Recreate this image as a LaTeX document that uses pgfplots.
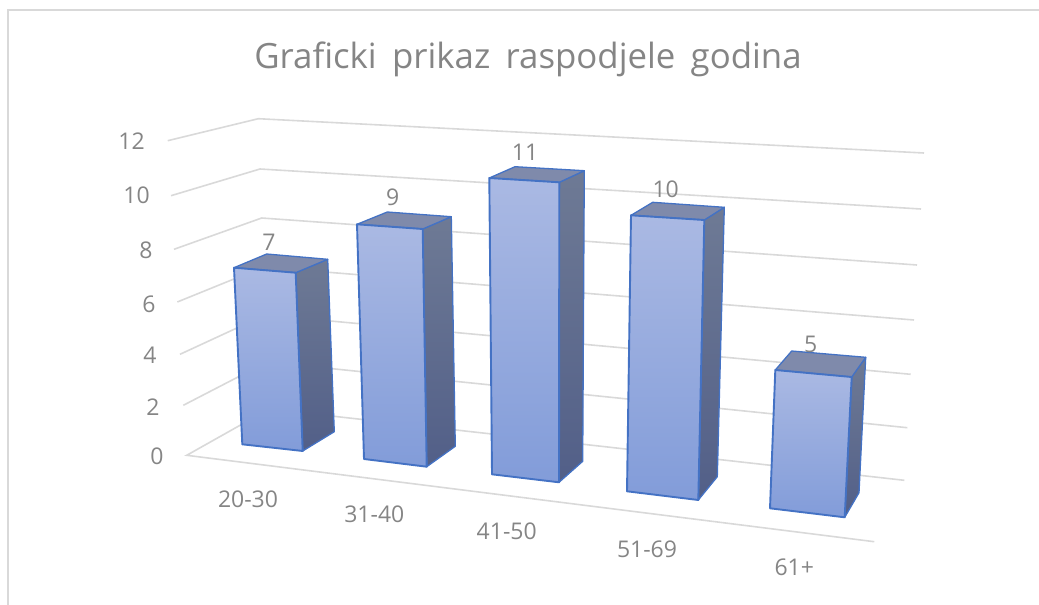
\documentclass[border=0pt]{standalone}
\usepackage{pgfplots}
\pgfplotsset{compat=1.18}
\usepackage{fontspec}
\setmainfont{Open Sans}
\definecolor{gridc}{HTML}{D9D9D9}
\definecolor{txt}{HTML}{858585}
\definecolor{edge}{HTML}{4472C4}
\definecolor{fronttop}{HTML}{AAB9E3}
\definecolor{frontbot}{HTML}{829CD9}
\definecolor{sidetop}{HTML}{6E7A95}
\definecolor{sidebot}{HTML}{525F88}
\definecolor{topface}{HTML}{7F8AAB}
\pgfplotsset{
  gridl/.style={gridc,line width=1.6pt,no markers},
  front/.style={draw=edge,line width=1.9pt,line join=round,top color=fronttop,bottom color=frontbot},
  side/.style={draw=edge,line width=1.3pt,line join=round,top color=sidetop,bottom color=sidebot},
  topf/.style={draw=edge,line width=1.3pt,line join=round,fill=topface},
  lab/.style={only marks,mark=none,point meta=explicit symbolic,nodes near coords,
    nodes near coords style={anchor=center,inner sep=0pt,text=txt,font=\fontsize{#1}{#1}\selectfont}},
}
\begin{document}
\begin{tikzpicture}
\begin{axis}[
  scale only axis,width=1039pt,height=605pt,
  xmin=0,xmax=1039,ymin=0,ymax=605,y dir=reverse,
  hide axis,clip=true,
]
% page extent
\addplot[draw=none,no markers] coordinates {(0,0) (1039,605)};
% frame
\addplot[gridc,line width=2.4pt,no markers] coordinates {(8,605) (8,10) (1039,10)};
% side-wall and back-wall gridlines (12 down to 0)
\addplot[gridl] coordinates {(167.7,140.7) (258.3,118.7) (924,153)};
\addplot[gridl] coordinates {(171,195.7) (260,169) (921,209)};
\addplot[gridl] coordinates {(174,249.3) (261.7,218) (917,265)};
\addplot[gridl] coordinates {(177.3,302) (263.5,267) (914,320)};
\addplot[gridl] coordinates {(180,354.3) (265,315) (910.7,374.3)};
\addplot[gridl] coordinates {(183.3,405.3) (267,362) (907.3,427.7)};
\addplot[gridl] coordinates {(904.3,480.3) (269,409) (186.7,455.3) (874.3,541.7)};
% title
\addplot[lab=34.8] table[x=x,y=y,meta=t,col sep=semicolon] {
x;y;t
528;59;{Graficki\hspace{0.18em} prikaz\hspace{0.18em} raspodjele\hspace{0.18em} godina}
};
% value-axis labels
\addplot[lab=23] table[x=x,y=y,meta=t] {
x y t
131.5 141 12
136.5 195 10
146 250 8
149 304 6
150 355 4
153 407.5 2
157 456 0
};
% category labels
\addplot[lab=23] table[x=x,y=y,meta=t] {
x y t
248 499 20-30
374.3 514 31-40
506.7 531 41-50
647 549 51-69
794.3 567.5 61+
};
% data labels
\addplot[lab=23] table[x=x,y=y,meta=t] {
x y t
269 242 7
392.7 197 9
525 152.7 11
665.7 189 10
810.7 344 5
};
% bar 1 (7)
\addplot[side] coordinates {(295.7,272.7) (327.7,259.3) (334.3,431.7) (302.7,451)} --cycle;
\addplot[topf] coordinates {(234,267.7) (266.7,254) (327.7,259.3) (295.7,272.7)} --cycle;
\addplot[front] coordinates {(234,267.7) (295.7,272.7) (302.7,451) (242.3,444.3)} --cycle;
% bar 2 (9)
\addplot[side] coordinates {(422.7,229) (451.3,216.7) (455.3,446.3) (426.7,466.7)} --cycle;
\addplot[topf] coordinates {(357,224.3) (387.3,212) (451.3,216.7) (422.7,229)} --cycle;
\addplot[front] coordinates {(357,224.3) (422.7,229) (426.7,466.7) (364,459)} --cycle;
% bar 3 (11)
\addplot[side] coordinates {(559.3,182.3) (584.3,170.7) (582.7,461.3) (559,482.3)} --cycle;
\addplot[topf] coordinates {(489.3,178) (515,166.7) (584.3,170.7) (559.3,182.3)} --cycle;
\addplot[front] coordinates {(489.3,178) (559.3,182.3) (559,482.3) (492,474.3)} --cycle;
% bar 4 (10)
\addplot[side] coordinates {(704.3,220) (724.3,207.3) (717.3,476.7) (698.3,500)} --cycle;
\addplot[topf] coordinates {(631,215.3) (652.7,202.3) (724.3,207.3) (704.3,220)} --cycle;
\addplot[front] coordinates {(631,215.3) (704.3,220) (698.3,500) (627,491.3)} --cycle;
% bar 5 (5)
\addplot[side] coordinates {(851.7,377) (865.7,357.3) (859,492.7) (844.7,517.3)} --cycle;
\addplot[topf] coordinates {(775.3,370) (791.7,351) (865.7,357.3) (851.7,377)} --cycle;
\addplot[front] coordinates {(775.3,370) (851.7,377) (844.7,517.3) (770,508.3)} --cycle;
\end{axis}
\end{tikzpicture}
\end{document}
